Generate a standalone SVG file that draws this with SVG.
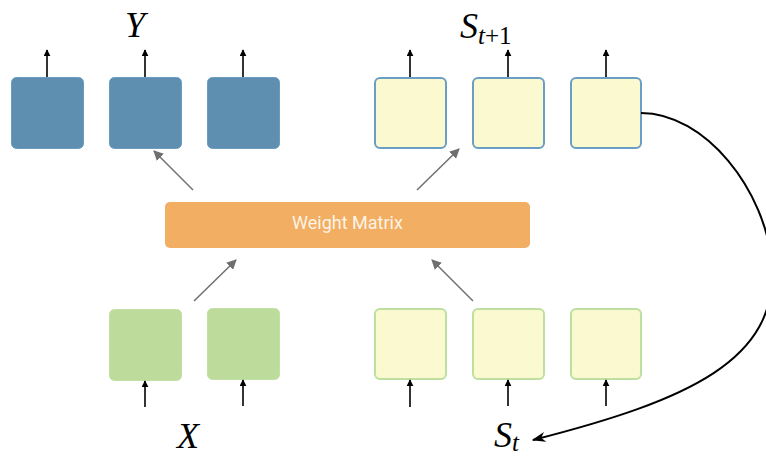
<svg xmlns="http://www.w3.org/2000/svg" width="766" height="456" viewBox="0 0 766 456">
<defs>
<marker id="ab" viewBox="0 0 10 10" refX="9" refY="5" markerWidth="7" markerHeight="7" markerUnits="userSpaceOnUse" orient="auto"><path d="M0,0 L10,5 L0,10 z" fill="#000"/></marker>
<marker id="ag" viewBox="0 0 10 10" refX="9" refY="5" markerWidth="10" markerHeight="10" markerUnits="userSpaceOnUse" orient="auto"><path d="M0,0 L10,5 L0,10 z" fill="#6f6f6f"/></marker>
<marker id="ac" viewBox="0 0 10 10" refX="9" refY="5" markerWidth="14" markerHeight="10" markerUnits="userSpaceOnUse" orient="auto" preserveAspectRatio="none"><path d="M0,0 L10,5 L0,10 L3,5 z" fill="#000"/></marker>
</defs>
<style>
.blue{fill:#5e8fb0;stroke:#6a9cc0;stroke-width:1}
.ytop{fill:#fbf9d0;stroke:#6a9ec5;stroke-width:2}
.ybot{fill:#fbf9d0;stroke:#bddf9f;stroke-width:2}
.green{fill:#bddb9a;stroke:#c3e0a4;stroke-width:1}
.io{stroke:#000;stroke-width:1.6;fill:none;marker-end:url(#ab)}
.gr{stroke:#6f6f6f;stroke-width:1.5;fill:none;marker-end:url(#ag)}
.lbl{font-family:"Liberation Serif",serif;font-style:italic;fill:#000}
</style>
<g id="y1"><rect class="blue" x="11.5" y="77.5" width="72" height="71" rx="5"/></g>
<g id="y2"><rect class="blue" x="109.5" y="77.5" width="72" height="71" rx="5"/></g>
<g id="y3"><rect class="blue" x="207.5" y="77.5" width="72" height="71" rx="5"/></g>
<g id="s1"><rect class="ytop" x="375" y="78" width="71" height="70" rx="5"/></g>
<g id="s2"><rect class="ytop" x="473" y="78" width="71" height="70" rx="5"/></g>
<g id="s3"><rect class="ytop" x="571" y="78" width="70" height="70" rx="5"/></g>
<g id="wm"><rect x="165" y="202" width="365" height="46" rx="5" fill="#f2ae63"/><text x="347.5" y="229" text-anchor="middle" font-family="Roboto, 'Open Sans', sans-serif" font-size="18" fill="#fdf3e6">Weight Matrix</text></g>
<g id="x1"><rect class="green" x="109.5" y="309.5" width="72" height="71" rx="5"/></g>
<g id="x2"><rect class="green" x="207.5" y="308.5" width="72" height="71" rx="5"/></g>
<g id="t1"><rect class="ybot" x="375" y="309" width="71" height="70" rx="5"/></g>
<g id="t2"><rect class="ybot" x="473" y="309" width="71" height="70" rx="5"/></g>
<g id="t3"><rect class="ybot" x="571" y="309" width="70" height="70" rx="5"/></g>
<g id="labels">
<text class="lbl" x="125" y="37" font-size="36">Y</text>
<text class="lbl" x="460" y="38" font-size="36">S<tspan font-size="25" dy="6">t</tspan><tspan font-size="25" font-style="normal">+1</tspan></text>
<text class="lbl" x="177" y="448" font-size="36">X</text>
<text class="lbl" x="494" y="447" font-size="36">S<tspan font-size="25" dy="4">t</tspan></text>
</g>
<g id="connectors">
<line class="io" x1="47" y1="77" x2="47" y2="50"/>
<line class="io" x1="145" y1="77" x2="145" y2="50"/>
<line class="io" x1="243" y1="77" x2="243" y2="50"/>
<line class="io" x1="410" y1="77" x2="410" y2="50"/>
<line class="io" x1="508" y1="77" x2="508" y2="50"/>
<line class="io" x1="606" y1="77" x2="606" y2="50"/>
<line class="io" x1="145" y1="407" x2="145" y2="381"/>
<line class="io" x1="243" y1="406" x2="243" y2="380"/>
<line class="io" x1="410" y1="407" x2="410" y2="380"/>
<line class="io" x1="508" y1="406" x2="508" y2="380"/>
<line class="io" x1="606" y1="406" x2="606" y2="380"/>
<line class="gr" x1="193" y1="190" x2="154" y2="151"/>
<line class="gr" x1="417" y1="190" x2="459" y2="149"/>
<line class="gr" x1="194" y1="301" x2="236" y2="260"/>
<line class="gr" x1="473" y1="301" x2="432" y2="260"/>
<path d="M641,113 C705,113 766,190 772,265 C778,360 690,400 533,440" stroke="#000" stroke-width="2" fill="none" marker-end="url(#ac)"/>
</g>
</svg>
